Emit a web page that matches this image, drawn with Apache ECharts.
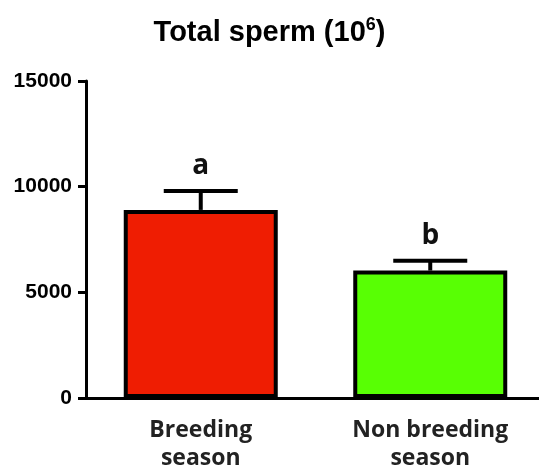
<!DOCTYPE html>
<html>
<head>
<meta charset="utf-8">
<script src="https://cdn.jsdelivr.net/npm/echarts@6/dist/echarts.min.js"></script>
<style>
  html, body { margin: 0; padding: 0; background: #fff; }
  #chart { width: 539px; height: 468px; }
</style>
</head>
<body>
<div id="chart"></div>
<script>
// values
var seasons = ['Breeding\nseason', 'Non breeding\nseason']
var meanSperm = [8900, 6030]
var semSperm = [900, 460]
var letters = ['a', 'b']
var barColors = ['#ef1d02', '#58ff04']
var yTicks = { min: 0, max: 15000, step: 5000 }

var errData = []
seasons.forEach(function (s, i) {
    errData.push([i, meanSperm[i], semSperm[i], letters[i]])
})

var chart = echarts.init(document.getElementById('chart'))

chart.setOption({
    animation: false,
    title: {
        text: '{m|Total sperm (10}{s|6}{m|)}',
        left: 'center',
        top: 11,
        textStyle: {
            rich: {
                m: { fontFamily: 'Liberation Sans', fontWeight: 'bold', fontSize: 29, color: '#000', lineHeight: 34 },
                s: { fontFamily: 'Liberation Sans', fontWeight: 'bold', fontSize: 18, color: '#000', verticalAlign: 'top', lineHeight: 34, padding: [0, 0, 12, 0] }
            }
        }
    },
    grid: { left: 86, right: -6, top: 81, bottom: 70, outerBoundsMode: 'none', containLabel: false },
    xAxis: {
        type: 'category',
        data: seasons,
        axisLine: { lineStyle: { color: '#000', width: 3 } },
        axisTick: { alignWithLabel: true, length: 8, lineStyle: { color: '#000', width: 3 } },
        axisLabel: {
            margin: 18,
            fontFamily: 'Open Sans',
            fontWeight: 'bold',
            fontSize: 23,
            lineHeight: 28,
            color: '#222'
        }
    },
    yAxis: {
        type: 'value',
        min: yTicks.min,
        max: yTicks.max,
        interval: yTicks.step,
        splitLine: { show: false },
        axisLine: { show: true, lineStyle: { color: '#000', width: 3 } },
        axisTick: { show: true, length: 8, lineStyle: { color: '#000', width: 3 } },
        axisLabel: {
            margin: 14,
            fontFamily: 'Liberation Sans',
            fontWeight: 'bold',
            fontSize: 21,
            color: '#000',
            formatter: function (v) { return String(v) }
        }
    },
    series: [{
        type: 'bar',
        barWidth: 154,
        data: meanSperm.map(function (v, i) {
            return { value: v, itemStyle: { color: barColors[i] } }
        }),
        itemStyle: { borderColor: '#000', borderWidth: 4 },
        z: 2
    }, {
        type: 'custom',
        data: errData,
        encode: { x: 0, y: 1 },
        z: 3,
        renderItem: function (params, api) {
            var idx = api.value(0)
            var mean = api.value(1)
            var err = api.value(2)
            var base = api.coord([idx, mean])
            var top = api.coord([idx, mean + err])
            var half = 37
            var st = { stroke: '#000', lineWidth: 4 }
            return {
                type: 'group',
                children: [{
                    type: 'line',
                    shape: { x1: top[0], y1: top[1], x2: base[0], y2: base[1] },
                    style: st
                }, {
                    type: 'line',
                    shape: { x1: top[0] - half, y1: top[1], x2: top[0] + half, y2: top[1] },
                    style: st
                }, {
                    type: 'text',
                    x: top[0],
                    y: top[1] - 11,
                    style: {
                        text: letters[params.dataIndex],
                        fontFamily: 'Open Sans',
                        fontWeight: 'bold',
                        fontSize: 28,
                        fill: '#111',
                        align: 'center',
                        verticalAlign: 'bottom'
                    }
                }]
            }
        }
    }]
})
</script>
</body>
</html>
